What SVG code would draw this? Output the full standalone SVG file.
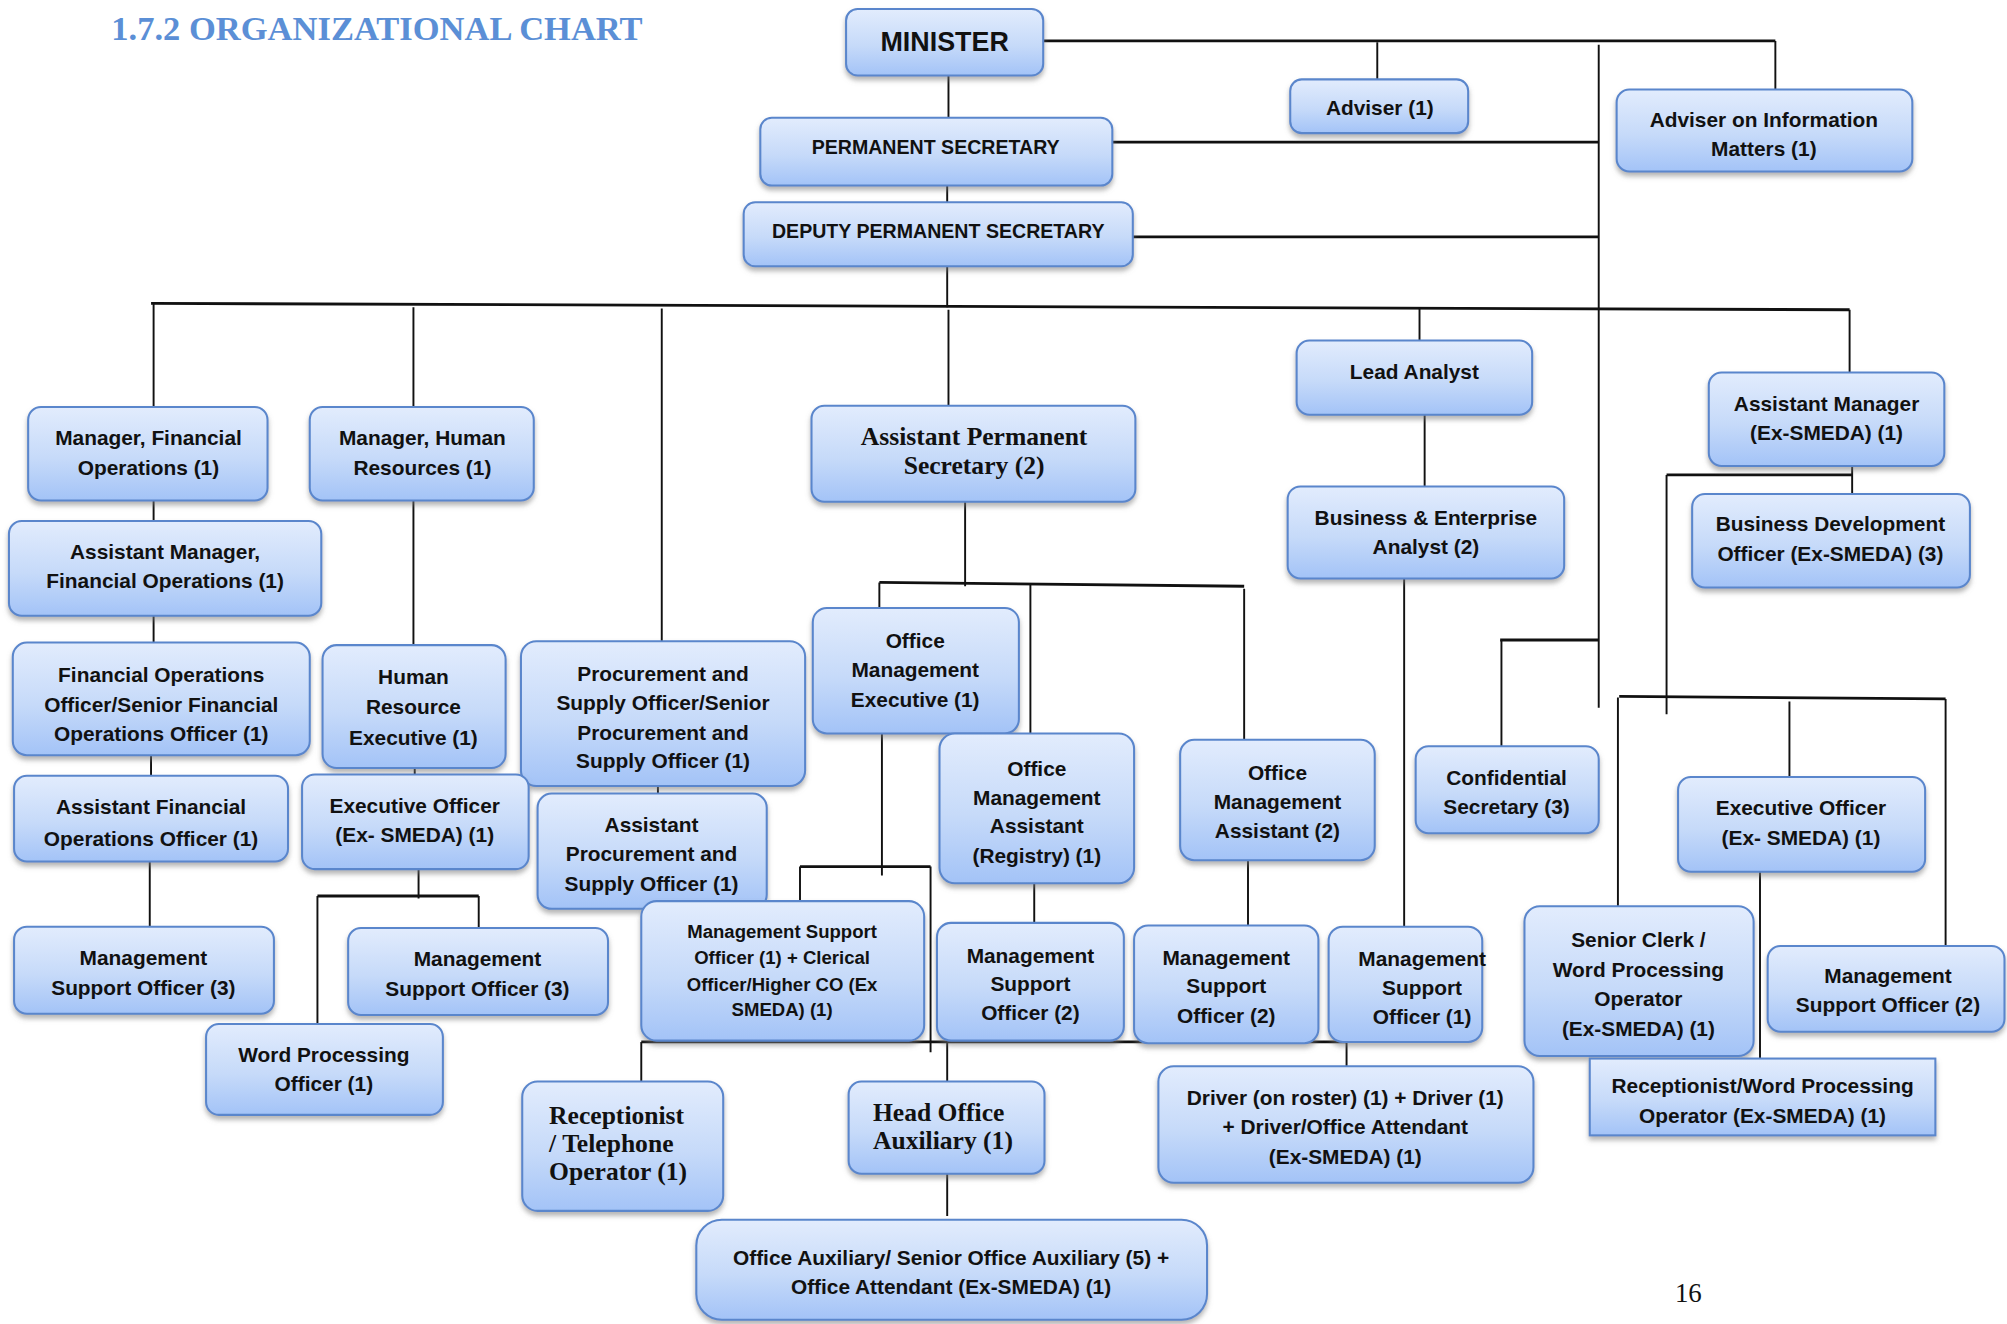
<svg xmlns="http://www.w3.org/2000/svg" width="2007" height="1324" viewBox="0 0 2007 1324">
<defs>
<linearGradient id="g" x1="0" y1="0" x2="0" y2="1">
<stop offset="0" stop-color="#e2ecfd"/>
<stop offset="0.55" stop-color="#c6daf9"/>
<stop offset="1" stop-color="#a3c3f7"/>
</linearGradient>
<filter id="sh" x="-10%" y="-10%" width="120%" height="130%">
<feDropShadow dx="0" dy="3" stdDeviation="2" flood-color="#777" flood-opacity="0.55"/>
</filter>
<style>
.b{fill:url(#g);stroke:#5a86cc;stroke-width:1.6;filter:url(#sh)}
.t{font-family:"Liberation Sans",Arial,sans-serif;font-weight:bold;font-size:16.3px;fill:#111;text-anchor:middle}
.u{font-size:15.3px}
.big{font-size:21px}
.sm{font-size:14.5px}
.s{font-family:"Liberation Serif","Times New Roman",serif;font-weight:bold;font-size:20px;fill:#111}
.l{stroke:#111;stroke-width:1.5;fill:none}
.lt{stroke:#111;stroke-width:2.2;fill:none}
</style>
</defs>
<rect width="2007" height="1324" fill="#fff"/>
<g transform="scale(1.28)">
<text x="87" y="31" font-family="Liberation Serif,serif" font-weight="bold" font-size="27" fill="#5b8fd6" textLength="415" lengthAdjust="spacingAndGlyphs">1.7.2 ORGANIZATIONAL CHART</text>
<text x="1319" y="1017" font-family="Liberation Serif,serif" font-size="21" fill="#111" text-anchor="middle">16</text>

<g id="connectors">
<path class="l" d="M741 57V92M740 133V158M740 203V240"/>
<path class="lt" d="M815 32H1387M869 111H1249M885 185H1249"/>
<path class="l" d="M1387 32V72M1076 33V66M1249 35V553"/>
<path class="lt" d="M118 237L1445 242"/>
<path class="l" d="M120 237V322M323 240V323M517 241V540M741 242V318M1109 240V268M1445 242V295"/>
<path class="l" d="M120 385V407M120 475V502M118 575V606M117 670V727"/>
<path class="l" d="M323 383V507M324 588V606M327 677V702M374 700V726M248 700V803"/>
<path class="lt" d="M248 700H374"/>
<path class="l" d="M514 588V621"/>
<path class="l" d="M754 385V458M687 455V477M805 456V578M972 460V583"/>
<path class="lt" d="M687 455L972 458"/>
<path class="l" d="M689 567V684M625 677V708M727 677V822"/>
<path class="lt" d="M625 677H727"/>
<path class="lt" d="M501 814H1052"/>
<path class="l" d="M501 814V845M740 814V845M1052 814V833M740 917V950"/>
<path class="l" d="M808 678V721M975 668V724"/>
<path class="l" d="M1113 320V382M1097 452V752"/>
<path class="lt" d="M1172 500H1249"/>
<path class="l" d="M1173 500V584"/>
<path class="l" d="M1447 360V387M1302 371V558"/>
<path class="lt" d="M1302 371H1447M1265 544L1520 546"/>
<path class="l" d="M1264 545V715M1398 548V610M1520 546V770M1375 677V842"/>
</g>

<g id="n-minister"><rect class="b" x="661" y="7" width="154" height="52" rx="9"/><text class="t big" x="738" y="40">MINISTER</text></g>
<g id="n-ps"><rect class="b" x="594" y="92" width="275" height="53" rx="9"/><text class="t u" x="731" y="120">PERMANENT SECRETARY</text></g>
<g id="n-dps"><rect class="b" x="581" y="158" width="304" height="50" rx="9"/><text class="t u" x="733" y="186">DEPUTY PERMANENT SECRETARY</text></g>
<g id="n-adviser"><rect class="b" x="1008" y="62" width="139" height="42" rx="9"/><text class="t" x="1078" y="90">Adviser (1)</text></g>
<g id="n-adviser-info"><rect class="b" x="1263" y="70" width="231" height="64" rx="10"/><text class="t" x="1378" y="99">Adviser on Information</text><text class="t" x="1378" y="122">Matters (1)</text></g>

<g id="n-mgr-fin"><rect class="b" x="22" y="318" width="187" height="73" rx="10"/><text class="t" x="116" y="348">Manager, Financial</text><text class="t" x="116" y="371">Operations (1)</text></g>
<g id="n-mgr-hr"><rect class="b" x="242" y="318" width="175" height="73" rx="10"/><text class="t" x="330" y="348">Manager, Human</text><text class="t" x="330" y="371">Resources (1)</text></g>
<g id="n-aps"><rect class="b" x="634" y="317" width="253" height="75" rx="10"/><text class="s" x="761" y="348" text-anchor="middle">Assistant Permanent</text><text class="s" x="761" y="370" text-anchor="middle">Secretary (2)</text></g>
<g id="n-lead"><rect class="b" x="1013" y="266" width="184" height="58" rx="10"/><text class="t" x="1105" y="296">Lead Analyst</text></g>
<g id="n-am-smeda"><rect class="b" x="1335" y="291" width="184" height="73" rx="10"/><text class="t" x="1427" y="321">Assistant Manager</text><text class="t" x="1427" y="344">(Ex-SMEDA) (1)</text></g>

<g id="n-am-fin"><rect class="b" x="7" y="407" width="244" height="74" rx="10"/><text class="t" x="129" y="437">Assistant Manager,</text><text class="t" x="129" y="459">Financial Operations (1)</text></g>
<g id="n-bea"><rect class="b" x="1006" y="380" width="216" height="72" rx="10"/><text class="t" x="1114" y="410">Business &amp; Enterprise</text><text class="t" x="1114" y="433">Analyst (2)</text></g>
<g id="n-bdo"><rect class="b" x="1322" y="386" width="217" height="73" rx="10"/><text class="t" x="1430" y="415">Business Development</text><text class="t" x="1430" y="438">Officer (Ex-SMEDA) (3)</text></g>

<g id="n-foo"><rect class="b" x="10" y="502" width="232" height="88" rx="11"/><text class="t" x="126" y="533">Financial Operations</text><text class="t" x="126" y="556">Officer/Senior Financial</text><text class="t" x="126" y="579">Operations Officer (1)</text></g>
<g id="n-hre"><rect class="b" x="252" y="504" width="143" height="96" rx="11"/><text class="t" x="323" y="534">Human</text><text class="t" x="323" y="558">Resource</text><text class="t" x="323" y="582">Executive (1)</text></g>
<g id="n-pso"><rect class="b" x="407" y="501" width="222" height="113" rx="12"/><text class="t" x="518" y="532">Procurement and</text><text class="t" x="518" y="555">Supply Officer/Senior</text><text class="t" x="518" y="578">Procurement and</text><text class="t" x="518" y="600">Supply Officer (1)</text></g>
<g id="n-ome"><rect class="b" x="635" y="475" width="161" height="98" rx="11"/><text class="t" x="715" y="506">Office</text><text class="t" x="715" y="529">Management</text><text class="t" x="715" y="552">Executive (1)</text></g>
<g id="n-oma-reg"><rect class="b" x="734" y="573" width="152" height="117" rx="12"/><text class="t" x="810" y="606">Office</text><text class="t" x="810" y="629">Management</text><text class="t" x="810" y="651">Assistant</text><text class="t" x="810" y="674">(Registry) (1)</text></g>
<g id="n-oma2"><rect class="b" x="922" y="578" width="152" height="94" rx="11"/><text class="t" x="998" y="609">Office</text><text class="t" x="998" y="632">Management</text><text class="t" x="998" y="655">Assistant (2)</text></g>
<g id="n-conf"><rect class="b" x="1106" y="583" width="143" height="68" rx="10"/><text class="t" x="1177" y="613">Confidential</text><text class="t" x="1177" y="636">Secretary (3)</text></g>
<g id="n-eo-r"><rect class="b" x="1311" y="607" width="193" height="74" rx="10"/><text class="t" x="1407" y="637">Executive Officer</text><text class="t" x="1407" y="660">(Ex- SMEDA) (1)</text></g>

<g id="n-afoo"><rect class="b" x="11" y="606" width="214" height="67" rx="10"/><text class="t" x="118" y="636">Assistant Financial</text><text class="t" x="118" y="661">Operations Officer (1)</text></g>
<g id="n-eo-l"><rect class="b" x="236" y="605" width="177" height="74" rx="10"/><text class="t" x="324" y="635">Executive Officer</text><text class="t" x="324" y="658">(Ex- SMEDA) (1)</text></g>
<g id="n-apso"><rect class="b" x="420" y="620" width="179" height="90" rx="11"/><text class="t" x="509" y="650">Assistant</text><text class="t" x="509" y="673">Procurement and</text><text class="t" x="509" y="696">Supply Officer (1)</text></g>
<g id="n-mso-clerical"><rect class="b" x="501" y="704" width="221" height="109" rx="12"/><text class="t sm" x="611" y="733">Management Support</text><text class="t sm" x="611" y="753">Officer (1) + Clerical</text><text class="t sm" x="611" y="774">Officer/Higher CO (Ex</text><text class="t sm" x="611" y="794">SMEDA) (1)</text></g>

<g id="n-mso3-a"><rect class="b" x="11" y="724" width="203" height="68" rx="10"/><text class="t" x="112" y="754">Management</text><text class="t" x="112" y="777">Support Officer (3)</text></g>
<g id="n-mso3-b"><rect class="b" x="272" y="725" width="203" height="68" rx="10"/><text class="t" x="373" y="755">Management</text><text class="t" x="373" y="778">Support Officer (3)</text></g>
<g id="n-wpo"><rect class="b" x="161" y="800" width="185" height="71" rx="10"/><text class="t" x="253" y="830">Word Processing</text><text class="t" x="253" y="852">Officer (1)</text></g>
<g id="n-mso2-a"><rect class="b" x="732" y="721" width="146" height="92" rx="11"/><text class="t" x="805" y="752">Management</text><text class="t" x="805" y="774">Support</text><text class="t" x="805" y="797">Officer (2)</text></g>
<g id="n-mso2-b"><rect class="b" x="886" y="723" width="144" height="92" rx="11"/><text class="t" x="958" y="754">Management</text><text class="t" x="958" y="776">Support</text><text class="t" x="958" y="799">Officer (2)</text></g>
<g id="n-mso1"><rect class="b" x="1038" y="724" width="120" height="90" rx="11"/><text class="t" x="1111" y="755">Management</text><text class="t" x="1111" y="777">Support</text><text class="t" x="1111" y="800">Officer (1)</text></g>
<g id="n-senior-clerk"><rect class="b" x="1191" y="708" width="179" height="117" rx="12"/><text class="t" x="1280" y="740">Senior Clerk /</text><text class="t" x="1280" y="763">Word Processing</text><text class="t" x="1280" y="786">Operator</text><text class="t" x="1280" y="809">(Ex-SMEDA) (1)</text></g>
<g id="n-mso2-r"><rect class="b" x="1381" y="739" width="185" height="67" rx="10"/><text class="t" x="1475" y="768">Management</text><text class="t" x="1475" y="791">Support Officer (2)</text></g>
<g id="n-recep-wp"><rect class="b" x="1242" y="827" width="270" height="60" rx="0"/><text class="t" x="1377" y="854">Receptionist/Word Processing</text><text class="t" x="1377" y="877">Operator (Ex-SMEDA) (1)</text></g>

<g id="n-recep"><rect class="b" x="408" y="845" width="157" height="101" rx="12"/><text class="s" x="429" y="878">Receptionist</text><text class="s" x="429" y="900">/ Telephone</text><text class="s" x="429" y="922">Operator (1)</text></g>
<g id="n-hoa"><rect class="b" x="663" y="845" width="153" height="72" rx="10"/><text class="s" x="682" y="876">Head Office</text><text class="s" x="682" y="898">Auxiliary (1)</text></g>
<g id="n-driver"><rect class="b" x="905" y="833" width="293" height="91" rx="12"/><text class="t" x="1051" y="863">Driver (on roster) (1) + Driver (1)</text><text class="t" x="1051" y="886">+ Driver/Office Attendant</text><text class="t" x="1051" y="909">(Ex-SMEDA) (1)</text></g>
<g id="n-office-aux"><rect class="b" x="544" y="953" width="399" height="78" rx="20"/><text class="t" x="743" y="988">Office Auxiliary/ Senior Office Auxiliary (5) +</text><text class="t" x="743" y="1011">Office Attendant (Ex-SMEDA) (1)</text></g>
</g>
</svg>
